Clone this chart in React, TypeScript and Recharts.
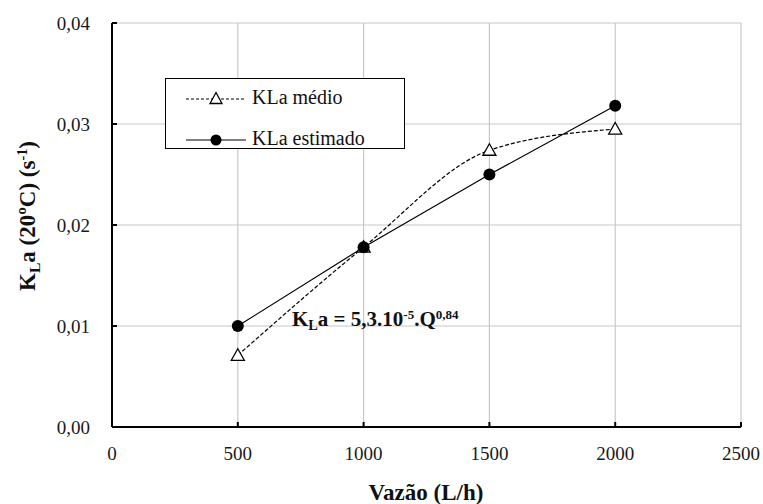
import { LineChart, Line, XAxis, YAxis, CartesianGrid } from "recharts";

const flows = [500, 1000, 1500, 2000];
const klaMedio = [0.0071, 0.0178, 0.0274, 0.0295];
const klaEstimado = [0.01, 0.0178, 0.025, 0.0318];
const xTicks = [0, 500, 1000, 1500, 2000, 2500];
const yTicks = [0, 0.01, 0.02, 0.03, 0.04];

const data = flows.map((q, i) => ({
  q,
  medio: klaMedio[i],
  estimado: klaEstimado[i],
}));

const SERIF = "Liberation Serif, DejaVu Serif, Tinos, serif";
const Y_MARGIN = 22;
const X_MARGIN = 20;
const TICK_FONT = 19;

function YTick({ x, y, payload }: any) {
  const ax = x + Y_MARGIN;
  return (
    <g>
      <line x1={ax} x2={ax + 5} y1={y} y2={y} stroke="#000" strokeWidth={2} />
      <text x={x} y={y} textAnchor="end" dominantBaseline="central" style={{ fontFamily: SERIF, fontSize: TICK_FONT }} fill="#1a1a1a">
        {payload.value.toFixed(2).replace(".", ",")}
      </text>
    </g>
  );
}

function XTick({ x, y, payload }: any) {
  const ay = y - X_MARGIN;
  return (
    <g>
      <line x1={x} x2={x} y1={ay} y2={ay - 5} stroke="#000" strokeWidth={2} />
      <text x={x} y={y} dy="0.71em" textAnchor="middle" style={{ fontFamily: SERIF, fontSize: TICK_FONT }} fill="#1a1a1a">
        {payload.value}
      </text>
    </g>
  );
}

function Triangle({ cx, cy }: any) {
  if (cx == null || cy == null) return null;
  return (
    <polygon
      points={`${cx},${cy - 6.5} ${cx + 6.5},${cy + 5} ${cx - 6.5},${cy + 5}`}
      fill="#fff"
      stroke="#000"
      strokeWidth={1.3}
    />
  );
}

function LegendBox() {
  const row = (dashed: boolean, label: string, top: number) => (
    <div style={{ position: "absolute", left: 20, top, display: "flex", alignItems: "center", height: 24, whiteSpace: "nowrap" }}>
      <svg width={62} height={16} style={{ marginRight: 4 }}>
        <line x1={0} x2={60} y1={8} y2={8} stroke="#000" strokeWidth={1} strokeDasharray={dashed ? "3 2" : undefined} />
        {dashed ? (
          <polygon points="30,1.5 36,12.5 24,12.5" fill="#fff" stroke="#000" strokeWidth={1.3} />
        ) : (
          <circle cx={30} cy={8} r={5.5} fill="#000" />
        )}
      </svg>
      <span style={{ lineHeight: 1, position: "relative", top: -2 }}>{label}</span>
    </div>
  );
  return (
    <div
      style={{
        position: "absolute",
        left: 165,
        top: 78,
        border: "1.5px solid #000",
        background: "#fff",
        width: 240,
        height: 71,
        boxSizing: "border-box",
        fontFamily: SERIF,
        fontSize: 20,
        color: "#111",
      }}
    >
      {row(true, "KLa médio", 8)}
      {row(false, "KLa estimado", 49)}
    </div>
  );
}

const sub = (t: string) => <span style={{ fontSize: "0.68em", position: "relative", top: "0.3em" }}>{t}</span>;
const sup = (t: string) => <span style={{ fontSize: "0.62em", position: "relative", top: "-0.55em" }}>{t}</span>;

const titleStyle = {
  position: "absolute" as const,
  whiteSpace: "nowrap" as const,
  fontFamily: SERIF,
  fontWeight: "bold" as const,
  fontSize: 23,
  lineHeight: 1,
  color: "#111",
};

export default function App() {
  return (
    <div style={{ position: "absolute", left: 0, top: 0, width: 763, height: 504, background: "#fff", overflow: "hidden" }}>
      <LineChart width={763} height={504} data={data} margin={{ top: 23, right: 22, left: 52, bottom: 37 }}>
        <CartesianGrid stroke="#c8c8c8" strokeWidth={1.2} />
        <XAxis
          type="number"
          dataKey="q"
          domain={[0, 2500]}
          ticks={xTicks}
          height={40}
          tickSize={0}
          tickMargin={X_MARGIN}
          tickLine={false}
          tick={<XTick />}
          axisLine={{ stroke: "#000", strokeWidth: 2 }}
        />
        <YAxis
          type="number"
          domain={[0, 0.04]}
          ticks={yTicks}
          width={60}
          tickSize={0}
          tickMargin={Y_MARGIN}
          tickLine={false}
          tick={<YTick />}
          axisLine={{ stroke: "#000", strokeWidth: 2 }}
        />
        <Line
          dataKey="medio"
          type="monotone"
          stroke="#000"
          strokeWidth={1.2}
          strokeDasharray="4 2"
          dot={<Triangle />}
          activeDot={false}
          isAnimationActive={false}
        />
        <Line
          dataKey="estimado"
          type="linear"
          stroke="#000"
          strokeWidth={1.2}
          dot={{ r: 6, fill: "#000", stroke: "none" }}
          activeDot={false}
          isAnimationActive={false}
        />
      </LineChart>
      <LegendBox />
      <div style={{ ...titleStyle, left: 27, top: 216, transform: "translate(-50%, -50%) rotate(-90deg)" }}>
        K{sub("L")}a (20ºC) (s{sup("-1")})
      </div>
      <div style={{ ...titleStyle, left: 426, top: 492, transform: "translate(-50%, -50%)" }}>
        Vazão (L/h)
      </div>
      <div style={{ ...titleStyle, fontSize: 21, left: 292, top: 309 }}>
        K{sub("L")}a = 5,3.10{sup("-5")}.Q{sup("0,84")}
      </div>
    </div>
  );
}
